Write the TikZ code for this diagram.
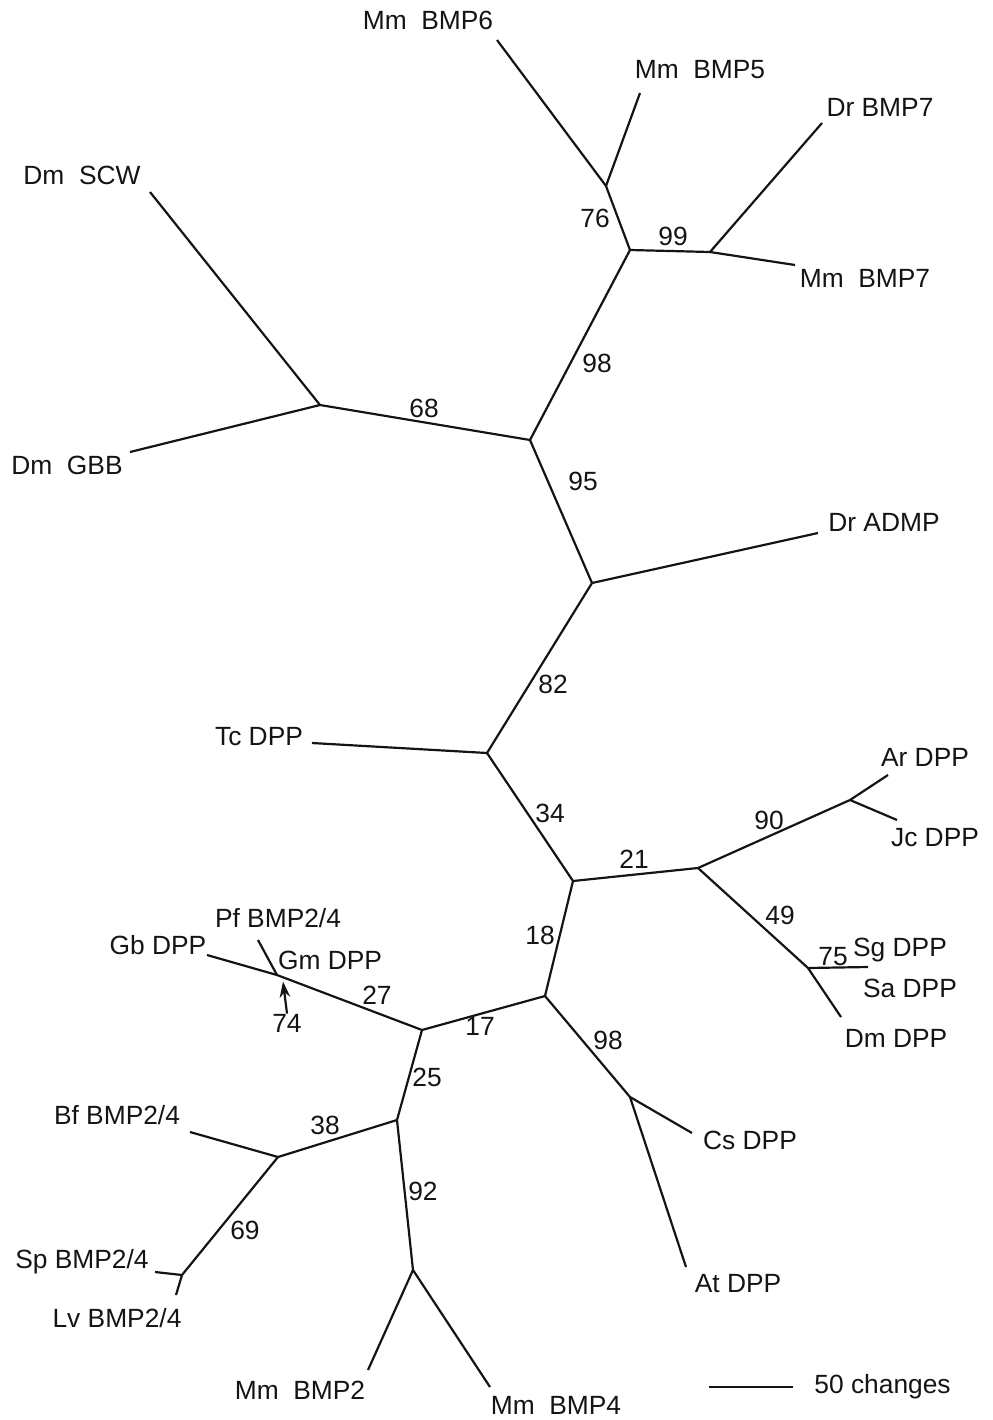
\documentclass[tikz,border=0pt]{standalone}
\usepackage{fontspec}
\setmainfont{Liberation Sans}
\usepackage{tikz}
\usetikzlibrary{arrows.meta, positioning}
\definecolor{mydark}{RGB}{20,20,20}
\tikzset{
  branch/.style={line width=1.25pt, color=mydark},
  taxon/.style={font=\fontsize{15}{17}\selectfont, inner sep=0pt, text=mydark},
  boot/.style={font=\fontsize{15}{17}\selectfont, inner sep=0pt, text=mydark},
  pointer/.style={-{Stealth[length=9pt, width=6pt]}, line width=1.25pt, color=mydark}
}
\begin{document}
\begin{tikzpicture}[x={(0.02cm,0)}, y={(0,-0.02cm)}]
  \useasboundingbox (0,0) rectangle (992,1420);

  % internal nodes
  \coordinate (scwgbb) at (320,405);
  \coordinate (c68) at (530,440);
  \coordinate (c98) at (630,250);
  \coordinate (c76) at (606,186);
  \coordinate (c99) at (710,252);
  \coordinate (c95) at (592,583);
  \coordinate (c82) at (487,753);
  \coordinate (c34) at (573,881);
  \coordinate (c21) at (698,868);
  \coordinate (c90) at (850,800);
  \coordinate (c49) at (808,968);
  \coordinate (c18) at (545,996);
  \coordinate (c17) at (422,1030);
  \coordinate (c74) at (277,975);
  \coordinate (c25) at (397,1120);
  \coordinate (c38) at (278,1157);
  \coordinate (c69) at (182,1275);
  \coordinate (c92) at (413,1270);
  \coordinate (cds) at (630,1097);

  % branch tips
  \coordinate (tbmp6) at (497,40);
  \coordinate (tbmp5) at (640,93);
  \coordinate (tdrbmp7) at (822,123);
  \coordinate (tmmbmp7) at (795,265);
  \coordinate (tscw) at (150,192);
  \coordinate (tgbb) at (130,452);
  \coordinate (tadmp) at (818,533);
  \coordinate (ttc) at (312,743);
  \coordinate (tar) at (888,775);
  \coordinate (tjc) at (897,820);
  \coordinate (tsg) at (868,967);
  \coordinate (tdm) at (841,1017);
  \coordinate (tcs) at (692,1133);
  \coordinate (tat) at (686,1267);
  \coordinate (tbmp2) at (368,1370);
  \coordinate (tbmp4) at (490,1387);
  \coordinate (tbf) at (190,1132);
  \coordinate (tsp) at (155,1272);
  \coordinate (tlv) at (176,1295);
  \coordinate (tgb) at (207,955);
  \coordinate (tpf) at (258,940);

  % taxa
  \node[taxon] (mmbmp6) at (428,20) {Mm\ \ BMP6};
  \node[taxon] (mmbmp5) at (700,70) {Mm\ \ BMP5};
  \node[taxon] (drbmp7) at (880,107) {Dr BMP7};
  \node[taxon] (mmbmp7) at (865,278) {Mm\ \ BMP7};
  \node[taxon] (dmscw) at (82,175) {Dm\ \ SCW};
  \node[taxon] (dmgbb) at (67,465) {Dm\ \ GBB};
  \node[taxon] (dradmp) at (884,522) {Dr ADMP};
  \node[taxon] (tcdpp) at (259,737) {Tc DPP};
  \node[taxon] (ardpp) at (925,757) {Ar DPP};
  \node[taxon] (jcdpp) at (935,838) {Jc DPP};
  \node[taxon] (sgdpp) at (900,950) {Sg DPP};
  \node[taxon] (sadpp) at (910,988) {Sa DPP};
  \node[taxon] (dmdpp) at (896,1038) {Dm DPP};
  \node[taxon] (csdpp) at (750,1140) {Cs DPP};
  \node[taxon] (atdpp) at (738,1284) {At DPP};
  \node[taxon] (mmbmp2) at (300,1390) {Mm\ \ BMP2};
  \node[taxon] (mmbmp4) at (556,1405) {Mm\ \ BMP4};
  \node[taxon] (bfbmp) at (117,1115) {Bf BMP2/4};
  \node[taxon] (spbmp) at (82,1262) {Sp BMP2/4};
  \node[taxon] (lvbmp) at (117,1318) {Lv BMP2/4};
  \node[taxon] (gbdpp) at (158,945) {Gb DPP};
  \node[taxon] (pfbmp) at (278,918) {Pf BMP2/4};
  \node[taxon] (gmdpp) at (330,960) {Gm DPP};

  % branches
  \draw[branch] (tscw) -- (scwgbb) -- (tgbb);
  \draw[branch] (scwgbb) -- (c68) -- (c98);
  \draw[branch] (c98) -- (c76) -- (tbmp6);
  \draw[branch] (c76) -- (tbmp5);
  \draw[branch] (c98) -- (c99) -- (tdrbmp7);
  \draw[branch] (c99) -- (tmmbmp7);
  \draw[branch] (c68) -- (c95) -- (tadmp);
  \draw[branch] (c95) -- (c82) -- (ttc);
  \draw[branch] (c82) -- (c34) -- (c21) -- (c90) -- (tar);
  \draw[branch] (c90) -- (tjc);
  \draw[branch] (c21) -- (c49) -- (tsg);
  \draw[branch] (c49) -- (tdm);
  \draw[branch] (c34) -- (c18) -- (c17) -- (c74) -- (tgb);
  \draw[branch] (c74) -- (tpf);
  \draw[branch] (c18) -- (cds) -- (tcs);
  \draw[branch] (cds) -- (tat);
  \draw[branch] (c17) -- (c25) -- (c38) -- (tbf);
  \draw[branch] (c38) -- (c69) -- (tsp);
  \draw[branch] (c69) -- (tlv);
  \draw[branch] (c25) -- (c92) -- (tbmp2);
  \draw[branch] (c92) -- (tbmp4);

  % bootstrap values
  \node[boot] (b76) at (595,218) {76};
  \node[boot] (b99) at (673,236) {99};
  \node[boot] (b98a) at (597,363) {98};
  \node[boot] (b68) at (424,408) {68};
  \node[boot] (b95) at (583,481) {95};
  \node[boot] (b82) at (553,684) {82};
  \node[boot] (b34) at (550,813) {34};
  \node[boot] (b21) at (634,859) {21};
  \node[boot] (b90) at (769,820) {90};
  \node[boot] (b49) at (780,915) {49};
  \node[boot] (b75) at (833,957) {75};
  \node[boot] (b18) at (540,935) {18};
  \node[boot] (b17) at (480,1026) {17};
  \node[boot] (b27) at (377,995) {27};
  \node[boot] (b25) at (427,1077) {25};
  \node[boot] (b98b) at (608,1040) {98};
  \node[boot] (b38) at (325,1125) {38};
  \node[boot] (b92) at (423,1191) {92};
  \node[boot] (b69) at (245,1230) {69};
  \node[boot] (b74) at (287,1023) {74};
  \draw[pointer] (b74.north) -- ++(-4,-32);

  % scale bar
  \coordinate (sbl) at (709,1387);
  \coordinate (sbr) at (793,1387);
  \draw[branch] (sbl) -- (sbr);
  \node[taxon, right=12pt of sbr] (scale) {50 changes};
\end{tikzpicture}
\end{document}
